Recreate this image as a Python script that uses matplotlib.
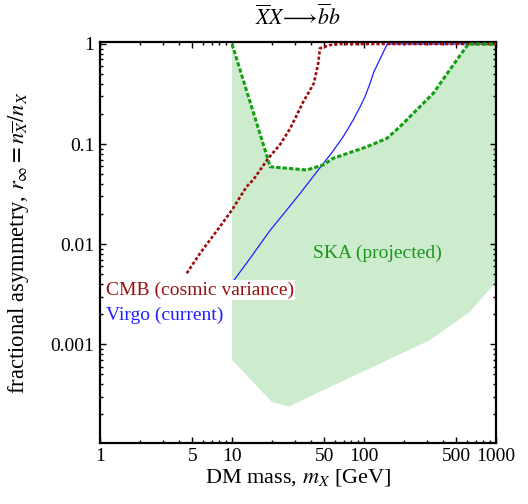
import numpy as np
import matplotlib
matplotlib.use("Agg")
from matplotlib import pyplot as plt
from matplotlib.ticker import FixedLocator, LogLocator, NullFormatter

plt.rcParams["font.family"] = ["Liberation Serif", "DejaVu Serif"]
plt.rcParams["mathtext.fontset"] = "stix"
plt.rcParams["font.size"] = 14

# CMB (cosmic variance) limit
cmb_m = [4.54, 5.72, 8.11, 10.0, 12.9, 14.5, 18.8, 23.0, 27.5, 34.7, 41.7, 45.0, 46.4, 55.4, 65.8, 1000.0]
cmb_r = [0.00512, 0.0081, 0.0150, 0.022, 0.0376, 0.044, 0.072, 0.098, 0.142, 0.265, 0.405, 0.641, 0.906, 0.977, 1.0, 1.0]

# Virgo (current)
virgo_m = [10.0, 14.0, 19.4, 26.0, 32.7, 46.4, 57.0, 69.7, 83.0, 93.3, 101.8, 110.0, 119.0, 150.0, 1000.0]
virgo_r = [0.0041, 0.0075, 0.0137, 0.022, 0.032, 0.058, 0.082, 0.119, 0.175, 0.235, 0.298, 0.39, 0.529, 1.0, 1.0]

# SKA (projected): upper edge (dashed) and lower edge of the shaded region
ska_m = [10.0, 18.8, 19.4, 36.8, 49.2, 58.5, 105.0, 149.0, 187.0, 335.0, 504.0, 617.0, 1000.0]
ska_r = [1.0, 0.0694, 0.0594, 0.0551, 0.0620, 0.0722, 0.094, 0.114, 0.149, 0.322, 0.692, 1.0, 1.0]
ska_low_m = [10.0, 20.0, 26.7, 316.0, 635.0, 1000.0]
ska_low_r = [6.97e-4, 2.67e-4, 2.38e-4, 1.10e-3, 2.12e-3, 4.19e-3]

x_ticks = [1, 5, 10, 50, 100, 500, 1000]
x_labels = ["1", "5", "10", "50", "100", "500", "1000"]
y_ticks = [1, 0.1, 0.01, 0.001]
y_labels = ["1", "0.1", "0.01", "0.001"]

fig = plt.figure(figsize=(5.28, 5.04), dpi=100)
ax = fig.add_axes([100 / 528, 1 - 442.7 / 504, 396 / 528, 401 / 504])

# shaded SKA region
poly_x = np.concatenate([ska_m, ska_low_m[::-1]])
poly_y = np.concatenate([ska_r, ska_low_r[::-1]])
ax.fill(poly_x, poly_y, color="#cdeccd", lw=0, zorder=1)

ax.plot(virgo_m, virgo_r, color="#1f1fff", lw=0.9, zorder=3)
ax.plot(cmb_m, cmb_r, color="#9e0d0d", lw=1.9, dashes=(1.2, 0.8), zorder=4)
ax.plot(ska_m, ska_r, color="#12a012", lw=2.2, dashes=(1.4, 0.7), zorder=5)

ax.text(1.11, 0.00349, "CMB (cosmic variance)", color="#9a1010", ha="left", va="center",
        zorder=10, bbox=dict(facecolor="white", edgecolor="none", pad=1.0))
ax.text(1.11, 0.00193, "Virgo (current)", color="#1f1fff", ha="left", va="center", zorder=10)
ax.text(40.9, 0.0081, "SKA (projected)", color="#1a961a", ha="left", va="center", zorder=10)

ax.set_xscale("log")
ax.set_yscale("log")
ax.set_xlim(1, 1000)
ax.set_ylim(1.04e-4, 1.054)

ax.xaxis.set_major_locator(FixedLocator(x_ticks))
ax.set_xticklabels(x_labels)
ax.xaxis.set_minor_locator(LogLocator(base=10, subs=np.arange(2, 10)))
ax.xaxis.set_minor_formatter(NullFormatter())
ax.yaxis.set_major_locator(FixedLocator(y_ticks))
ax.set_yticklabels(y_labels)
ax.yaxis.set_minor_locator(LogLocator(base=10, subs=np.arange(2, 10)))
ax.yaxis.set_minor_formatter(NullFormatter())

ax.tick_params(which="both", direction="in", top=True, right=True, width=1.0)
ax.tick_params(which="major", length=4.5, pad=4)
ax.tick_params(which="minor", length=2.2)
for s in ax.spines.values():
    s.set_linewidth(1.6)

ax.set_xlabel(r"DM mass, $m_X$ [GeV]", fontsize=16, labelpad=1)
ax.set_ylabel(r"fractional asymmetry, $r_\infty = n_{\overline{X}}/n_X$", fontsize=16.3, labelpad=14)
ax.set_title(r"$\overline{X}X\!\longrightarrow\!\overline{b}b$", fontsize=15.7, pad=12)

fig.savefig("out.png", dpi=100)
